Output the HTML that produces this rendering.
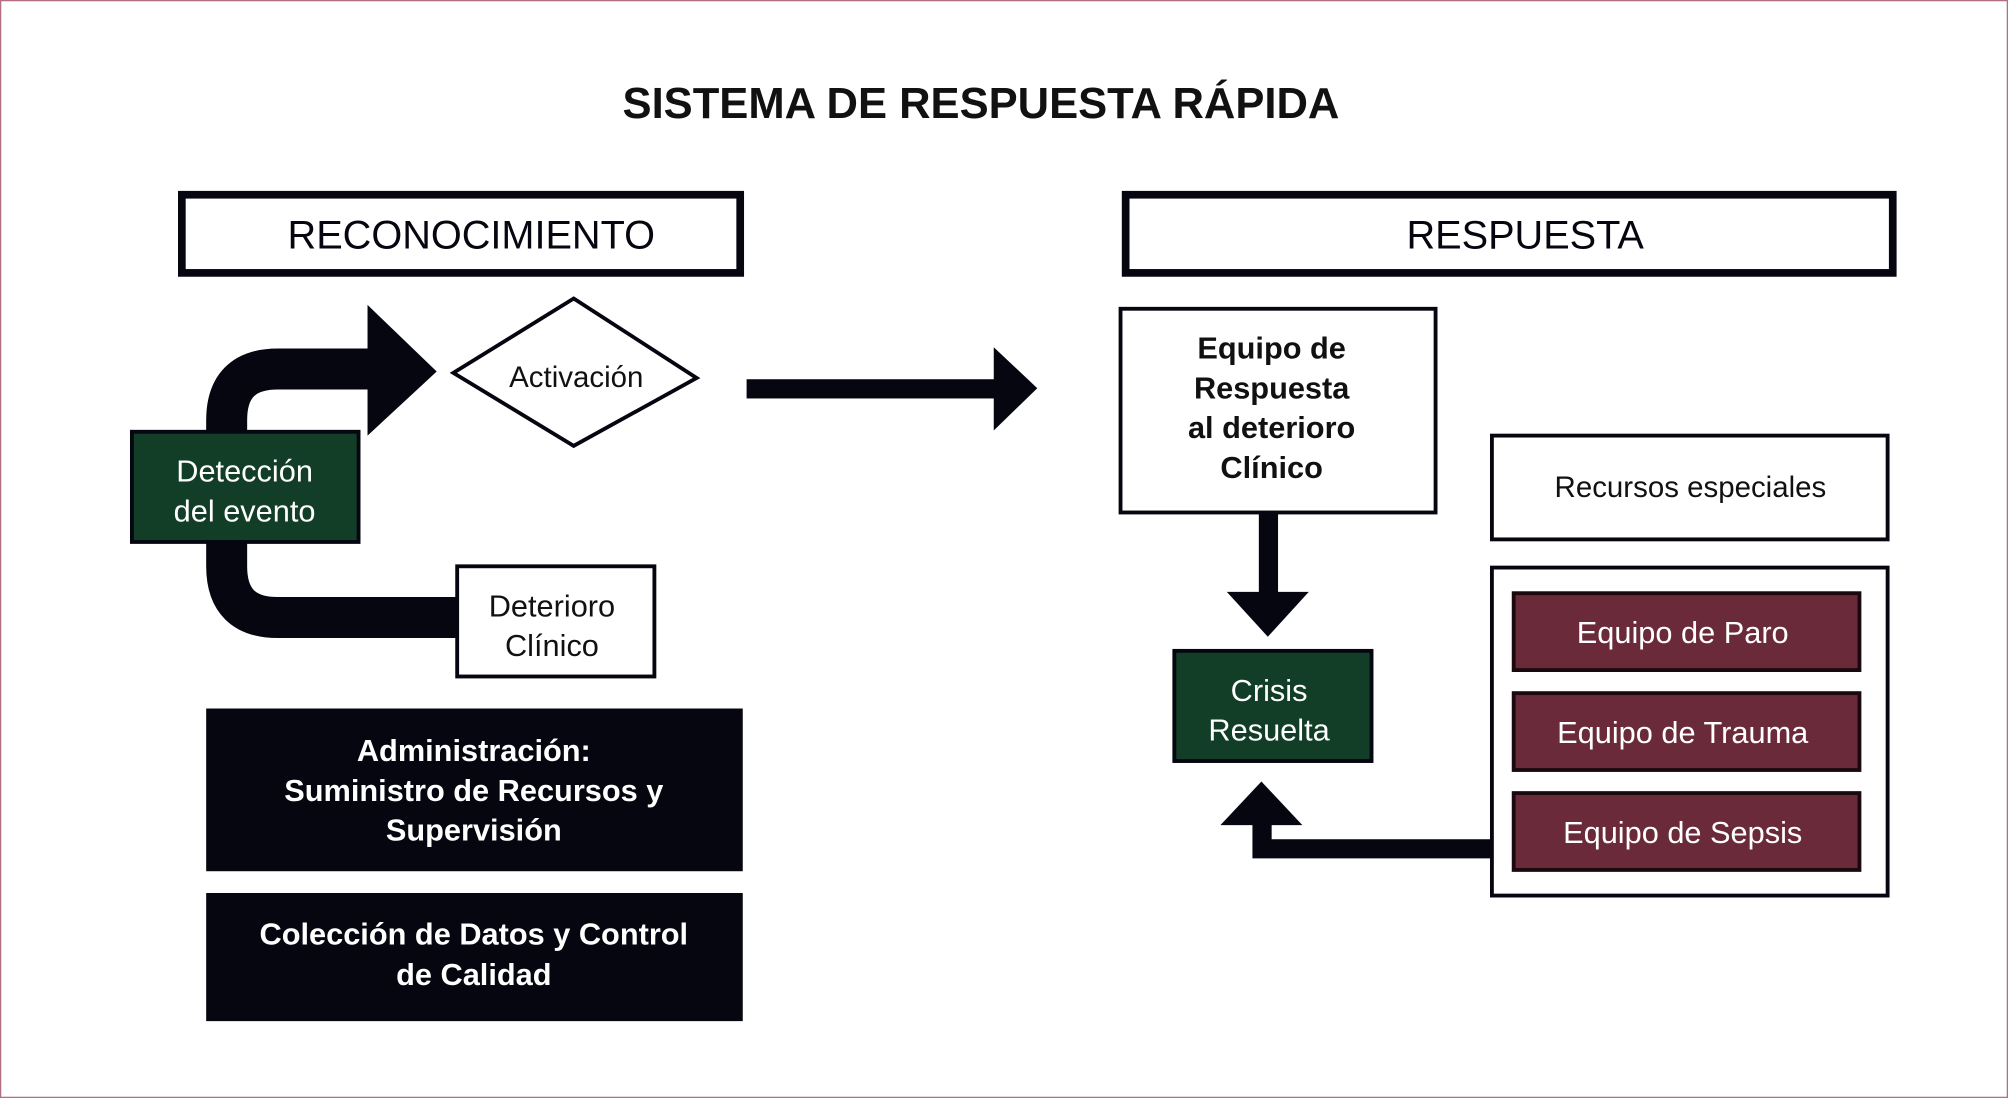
<!DOCTYPE html>
<html><head><meta charset="utf-8"><style>
html,body{margin:0;padding:0;background:#fff}
svg{display:block}
text{font-family:"Liberation Sans",sans-serif}
</style></head><body>
<svg width="2008" height="1098" viewBox="0 0 1568 857" preserveAspectRatio="none" xmlns="http://www.w3.org/2000/svg">
<rect x="0.5" y="0.5" width="1567" height="856" fill="#fff" stroke="#b07080" stroke-width="1"/>
<text x="766" y="92" text-anchor="middle" font-size="34" font-weight="bold" fill="#111">SISTEMA DE RESPUESTA RÁPIDA</text>

<rect x="142" y="152" width="436" height="61" fill="#fff" stroke="#05060f" stroke-width="6"/>
<text x="368" y="194" text-anchor="middle" font-size="31" fill="#05060f">RECONOCIMIENTO</text>
<rect x="879" y="152" width="599" height="61" fill="#fff" stroke="#05060f" stroke-width="6"/>
<text x="1191" y="194" text-anchor="middle" font-size="31" fill="#05060f">RESPUESTA</text>

<!-- curved arrow -->
<path d="M288 288 H217 Q177 288 177 328 V442 Q177 482 217 482 H360" fill="none" stroke="#05060f" stroke-width="32"/>
<polygon points="287,238 341,290 287,340" fill="#05060f"/>
<polygon points="354,291 448,233 544,295 448,348" fill="#fff" stroke="#05060f" stroke-width="3"/>
<text x="450" y="302" text-anchor="middle" font-size="23" fill="#111">Activación</text>

<rect x="103" y="337" width="177" height="86" fill="#123d26" stroke="#05060f" stroke-width="3"/>
<text x="191" y="376" text-anchor="middle" font-size="24" fill="#fff">Detección</text>
<text x="191" y="407" text-anchor="middle" font-size="24" fill="#fff">del evento</text>

<rect x="357" y="442" width="154" height="86" fill="#fff" stroke="#05060f" stroke-width="3"/>
<text x="431" y="481" text-anchor="middle" font-size="24" fill="#111">Deterioro</text>
<text x="431" y="512" text-anchor="middle" font-size="24" fill="#111">Clínico</text>

<rect x="161" y="553" width="419" height="127" fill="#05060f"/>
<text x="370" y="594" text-anchor="middle" font-size="24" font-weight="bold" fill="#fff">Administración:</text>
<text x="370" y="625" text-anchor="middle" font-size="24" font-weight="bold" fill="#fff">Suministro de Recursos y</text>
<text x="370" y="656" text-anchor="middle" font-size="24" font-weight="bold" fill="#fff">Supervisión</text>
<rect x="161" y="697" width="419" height="100" fill="#05060f"/>
<text x="370" y="737" text-anchor="middle" font-size="24" font-weight="bold" fill="#fff">Colección de Datos y Control</text>
<text x="370" y="769" text-anchor="middle" font-size="24" font-weight="bold" fill="#fff">de Calidad</text>

<!-- middle arrow -->
<rect x="583" y="296" width="195" height="15" fill="#05060f"/>
<polygon points="776,271 810,303 776,336" fill="#05060f"/>

<rect x="875" y="241" width="246" height="159" fill="#fff" stroke="#05060f" stroke-width="3"/>
<g font-size="24" font-weight="bold" fill="#111" text-anchor="middle">
<text x="993" y="280">Equipo de</text>
<text x="993" y="311">Respuesta</text>
<text x="993" y="342">al deterioro</text>
<text x="993" y="373">Clínico</text>
</g>
<rect x="983" y="400" width="15" height="63" fill="#05060f"/>
<polygon points="958,462 1022,462 990,497" fill="#05060f"/>

<rect x="917" y="508" width="154" height="86" fill="#123d26" stroke="#05060f" stroke-width="3"/>
<text x="991" y="547" text-anchor="middle" font-size="24" fill="#fff">Crisis</text>
<text x="991" y="578" text-anchor="middle" font-size="24" fill="#fff">Resuelta</text>

<!-- up arrow -->
<polygon points="978,643 978,670 1166,670 1166,655 993,655 993,643" fill="#05060f"/>
<polygon points="953,644 1017,644 985,610" fill="#05060f"/>

<rect x="1165" y="340" width="309" height="81" fill="#fff" stroke="#05060f" stroke-width="3"/>
<text x="1320" y="388" text-anchor="middle" font-size="23" fill="#111">Recursos especiales</text>
<rect x="1165" y="443" width="309" height="256" fill="#fff" stroke="#05060f" stroke-width="3"/>
<rect x="1182" y="463" width="270" height="60" fill="#6a2a3a" stroke="#1a0a10" stroke-width="3"/>
<rect x="1182" y="541" width="270" height="60" fill="#6a2a3a" stroke="#1a0a10" stroke-width="3"/>
<rect x="1182" y="619" width="270" height="60" fill="#6a2a3a" stroke="#1a0a10" stroke-width="3"/>
<g font-size="24" fill="#fff" text-anchor="middle">
<text x="1314" y="502">Equipo de Paro</text>
<text x="1314" y="580">Equipo de Trauma</text>
<text x="1314" y="658">Equipo de Sepsis</text>
</g>
</svg>
</body></html>
